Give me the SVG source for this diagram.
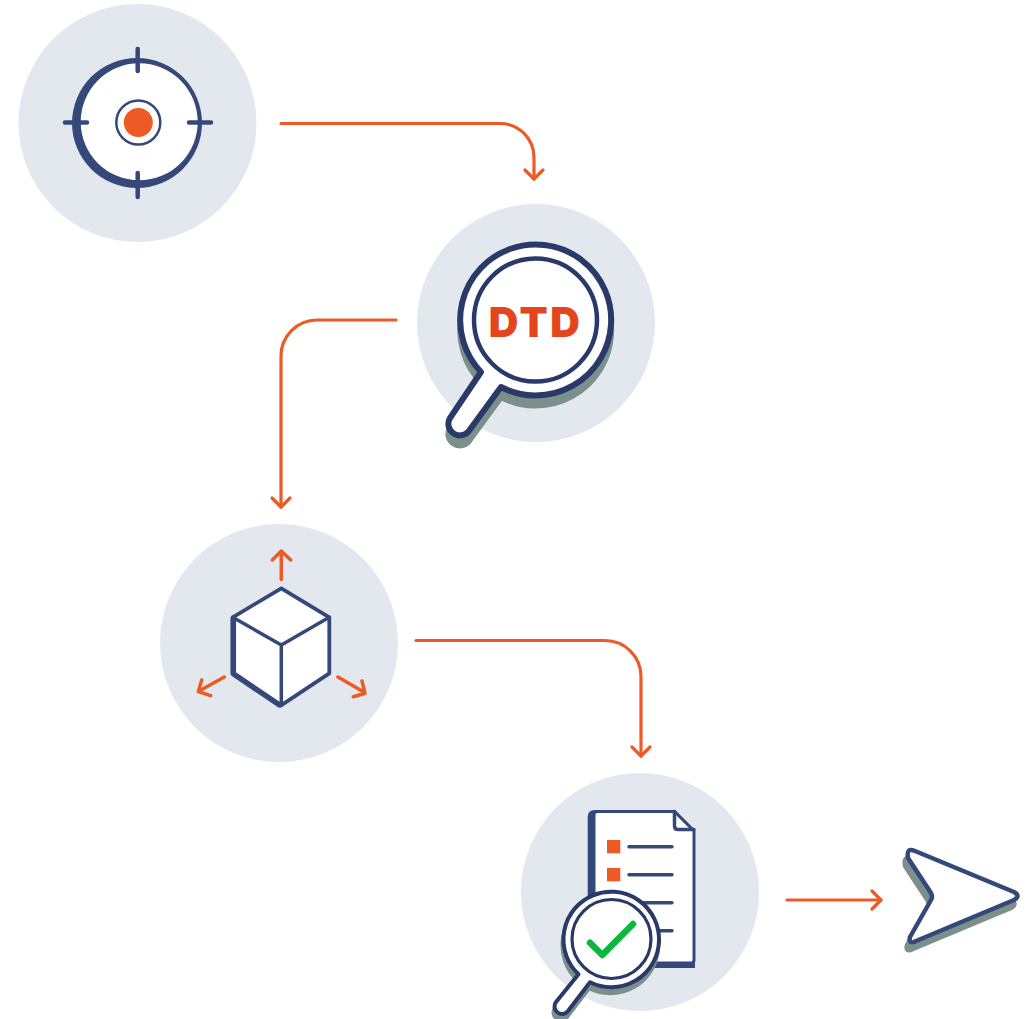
<svg xmlns="http://www.w3.org/2000/svg" width="1028" height="1019" viewBox="0 0 1028 1019">
<style>
.bg{fill:#e3e8ef}
.nv{fill:none;stroke:#34497a;stroke-width:3.500;stroke-linecap:round;stroke-linejoin:round}
.mg{fill:#fff;stroke:#2a3a68;stroke-linejoin:round}
.sh{fill:#7c908b;stroke:#7c908b;stroke-linejoin:round}
.or{fill:none;stroke:#ee5a26;stroke-width:3.500;stroke-linecap:round;stroke-linejoin:round}
.wire{fill:none;stroke:#ee5a26;stroke-width:3.200;stroke-linecap:round;stroke-linejoin:round;marker-end:url(#head)}
</style>
<defs>
<marker id="head" markerUnits="userSpaceOnUse" viewBox="-12 -12 24 24" markerWidth="24" markerHeight="24" refX="0" refY="0" orient="auto">
<path d="M-9-9L0 0L-9 9" fill="none" stroke="#ee5a26" stroke-width="3.200" stroke-linecap="round" stroke-linejoin="round"/>
</marker>
<path id="bigmag" d="M481 372L450 418A11.500 11.500 0 0 0 468.500 431.500L501 387A75.500 75.500 0 1 0 481 372Z"/>
<path id="smallmag" d="M578.500 974.300L556 1002A7.500 7.500 0 0 0 568 1011L590 982.300A47.800 47.800 0 1 0 578.500 974.300Z"/>
<path id="sign" d="M915 851L1014 892Q1021 896 1014 900L916 941Q908 945 910 937L931 900Q933 897 931 893L908 858Q906 847 915 851Z"/>
</defs>

<g id="connectors">
<path class="wire" d="M281 123.500H500A34 34 0 0 1 534 157.500V179"/>
<path class="wire" d="M396 320H317A36 36 0 0 0 281 356V507"/>
<path class="wire" d="M416 640.500H605A36 36 0 0 1 641 676.500V756"/>
<path class="wire" d="M787 900H881"/>
</g>

<g id="target">
<circle class="bg" cx="137.500" cy="123" r="119"/>
<circle cx="137" cy="123" r="65" fill="#34497a"/>
<circle cx="139.200" cy="121.800" r="58.500" fill="#fff"/>
<path d="M137.700 49V71M137.700 173V197M65 122.500H87M189 122.500H211" fill="none" stroke="#34497a" stroke-width="4.500" stroke-linecap="round"/>
<circle cx="138.300" cy="122.500" r="22" fill="#fff" stroke="#34497a" stroke-width="2.500"/>
<circle cx="138.300" cy="122.500" r="14.500" fill="#ee5a26"/>
</g>

<g id="dtd">
<circle class="bg" cx="536" cy="323" r="119"/>
<use href="#bigmag" class="sh" stroke-width="6" transform="translate(0 10)"/>
<use href="#bigmag" class="mg" stroke-width="6"/>
<circle cx="535.500" cy="320" r="61.500" fill="#fff" stroke="#2a3a68" stroke-width="4.500"/>
<text x="535.500" y="337.300" text-anchor="middle" font-family="Inter,sans-serif" font-weight="900" font-size="41" letter-spacing="2.500" fill="#e5451c">DTD</text>
</g>

<g id="cube">
<circle class="bg" cx="279" cy="643" r="119"/>
<path d="M281.300 588.300L329.300 617.300V673.300L280.700 705.700L232.700 673.300V617.300Z" fill="#fff" stroke="#34497a" stroke-width="3.800" stroke-linejoin="round"/>
<path d="M233.300 617.300V673.800L280.700 705.700" fill="none" stroke="#34497a" stroke-width="5.500" stroke-linejoin="round"/>
<path class="nv" d="M232.700 617.300L281.300 645L329.300 617.300M281.300 645V705"/>
<path class="or" d="M281.300 579.500V552M272.300 560L281.300 551L290.700 560M224.300 677L200 690.500M201.700 680L198.300 691.700L210.700 695.700M338 677L363.300 691.700M353.300 696.700L365 693.300L362 681"/>
</g>

<g id="report">
<circle class="bg" cx="640" cy="892" r="119"/>
<path d="M595 810H675L695 830V968H592Q587.700 968 587.700 963V817Q587.700 810 595 810Z" fill="#34497a"/>
<path d="M597 811.500H674.500L694 831V960Q694 963 691 963H594V815Q594 811.500 597 811.500Z" fill="#fff" stroke="#34497a" stroke-width="3" stroke-linejoin="round"/>
<path class="nv" d="M674.500 811.500V826Q674.500 829.500 678 829.500H694" stroke-width="3"/>
<rect x="607" y="840" width="13.300" height="13.300" fill="#ee5a26"/>
<rect x="607" y="868" width="13.300" height="13.300" fill="#ee5a26"/>
<path class="nv" d="M629 846.700H672M629 874.700H672M629 902.700H672M629 930.700H672"/>
<use href="#smallmag" class="sh" stroke-width="4" transform="translate(-1 6)"/>
<use href="#smallmag" class="mg" stroke-width="4"/>
<circle cx="611.500" cy="939" r="39.500" fill="#fff" stroke="#2a3a68" stroke-width="3.200"/>
<path d="M590 942.700L602.300 955L633 924" fill="none" stroke="#0ab83c" stroke-width="6.500" stroke-linecap="round" stroke-linejoin="round"/>
</g>

<g id="send">
<use href="#sign" class="sh" stroke-width="4.500" transform="translate(-3 8)"/>
<use href="#sign" fill="#fff" stroke="#34497a" stroke-width="4.500" stroke-linejoin="round"/>
</g>
</svg>
